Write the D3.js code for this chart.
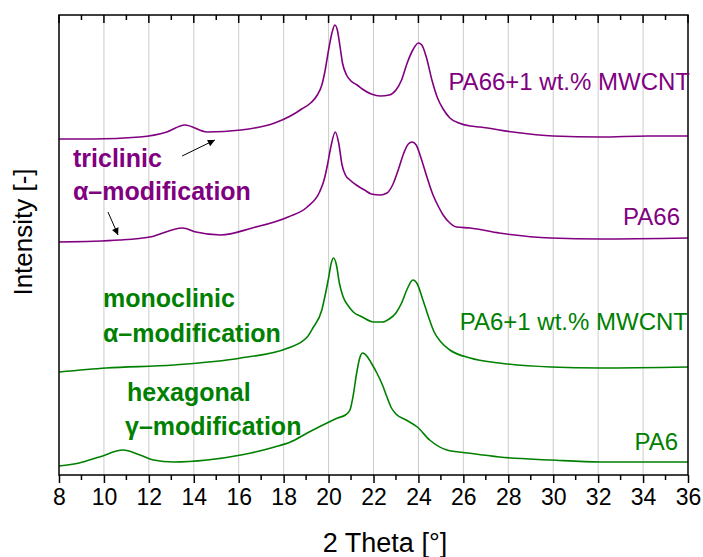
<!DOCTYPE html>
<html>
<head>
<meta charset="utf-8">
<script src="https://cdnjs.cloudflare.com/ajax/libs/d3/7.8.5/d3.min.js"></script>
<style>
  body { margin: 0; background: #fff; }
  text { font-family: "Liberation Sans", Arial, sans-serif; }
</style>
</head>
<body>
<div id="chart"></div>
<script>
// 2 Theta [deg] and intensity (arbitrary units, curves already offset)
const pa66cntTheta = [8.0, 9.5, 11.6, 12.8, 13.6, 14.6, 16.1, 17.6, 18.3, 18.8, 19.2, 19.5, 19.7, 19.85, 20.0, 20.15, 20.28, 20.4, 20.5, 20.62, 20.8, 21.0, 21.27, 21.5, 21.9, 22.3, 22.7, 23.0, 23.25, 23.5, 23.75, 24.0, 24.15, 24.35, 24.6, 24.85, 25.1, 25.4, 25.8, 26.3, 26.75, 28.2, 30.0, 32.1, 34.2, 36.0];
const pa66cntI = [336, 336, 338, 343, 350, 343, 345, 352, 359, 366, 372, 380, 390, 405, 425, 442, 450, 444, 430, 412, 400, 394, 390, 386, 381, 379, 380, 385, 395, 412, 425, 432, 430, 418, 395, 377, 366, 357, 352, 349, 348, 343, 339, 338, 339, 339];

const pa66Theta = [8.0, 10.7, 12.05, 13.5, 14.1, 15.2, 16.6, 18.2, 19.05, 19.6, 19.8, 19.95, 20.1, 20.3, 20.45, 20.6, 20.75, 20.95, 21.3, 21.6, 21.9, 22.3, 22.6, 22.85, 23.1, 23.35, 23.55, 23.72, 23.9, 24.1, 24.35, 24.65, 24.9, 25.1, 25.4, 25.7, 26.3, 27.6, 29.9, 32.1, 36.0];
const pa66I = [233, 235, 238, 247, 243, 240, 247, 258, 268, 283, 295, 310, 328, 343, 332, 310, 300, 295, 289, 285, 281, 280, 282, 290, 305, 322, 331, 333, 330, 318, 300, 280, 268, 260, 252, 248, 247, 242, 237, 236, 237];

const pa6cntTheta = [8.0, 10.1, 13.1, 16.1, 18.2, 19.05, 19.3, 19.7, 19.85, 20.0, 20.12, 20.22, 20.35, 20.48, 20.65, 20.85, 21.1, 21.5, 22.0, 22.4, 22.7, 23.0, 23.25, 23.5, 23.75, 23.95, 24.2, 24.45, 24.7, 25.0, 25.4, 26.3, 27.6, 29.9, 32.1, 36.0];
const pa6cntI = [103, 107, 110, 117, 127, 138, 147, 165, 180, 197, 212, 217, 210, 192, 178, 170, 163, 158, 153, 153, 156, 162, 172, 186, 195, 191, 175, 158, 143, 133, 125, 117, 112, 108, 107, 108];

const pa6Theta = [8.0, 8.9, 9.8, 10.85, 11.6, 12.2, 13.1, 14.6, 16.1, 17.6, 18.3, 19.05, 19.93, 20.4, 20.75, 20.95, 21.1, 21.25, 21.4, 21.52, 21.7, 21.9, 22.15, 22.4, 22.6, 22.8, 23.0, 23.45, 23.95, 24.5, 25.27, 26.2, 27.6, 29.9, 32.1, 36.0];
const pa6I = [9, 12, 18, 25, 20, 15, 13, 15, 20, 28, 33, 42, 52, 57, 60, 65, 80, 102, 118, 122, 119, 112, 102, 90, 78, 67, 61, 55, 48, 35, 25, 22, 18, 15, 13, 13];

const xTicks = [8, 10, 12, 14, 16, 18, 20, 22, 24, 26, 28, 30, 32, 34, 36];

const purple = "#800080";
const green = "#008000";

const series = [
  { name: "PA66+1 wt.% MWCNT", theta: pa66cntTheta, inten: pa66cntI, color: purple },
  { name: "PA66", theta: pa66Theta, inten: pa66I, color: purple },
  { name: "PA6+1 wt.% MWCNT", theta: pa6cntTheta, inten: pa6cntI, color: green },
  { name: "PA6", theta: pa6Theta, inten: pa6I, color: green }
];

const width = 703, height = 557;
const margin = { top: 15, right: 15, bottom: 82, left: 59 };
const innerW = width - margin.left - margin.right;
const innerH = height - margin.top - margin.bottom;

const svg = d3.select("#chart").append("svg")
  .attr("width", width)
  .attr("height", height);

const xScale = d3.scaleLinear().domain([8, 36]).range([margin.left, margin.left + innerW]);
const yScale = d3.scaleLinear().domain([0, 460]).range([margin.top + innerH, margin.top]);

// vertical grid lines
svg.append("g")
  .selectAll("line")
  .data(xTicks.slice(1, -1))
  .enter().append("line")
  .attr("x1", d => xScale(d)).attr("x2", d => xScale(d))
  .attr("y1", margin.top).attr("y2", margin.top + innerH)
  .attr("stroke", "#cccccc")
  .attr("stroke-width", 1);

// curves
const line = d3.line()
  .x(d => xScale(d[0]))
  .y(d => yScale(d[1]))
  .curve(d3.curveMonotoneX);

series.forEach(s => {
  svg.append("path")
    .datum(d3.zip(s.theta, s.inten))
    .attr("fill", "none")
    .attr("stroke", s.color)
    .attr("stroke-width", 1.6)
    .attr("d", line);
});

// frame
svg.append("rect")
  .attr("x", margin.left).attr("y", margin.top)
  .attr("width", innerW).attr("height", innerH)
  .attr("fill", "none").attr("stroke", "#000").attr("stroke-width", 1.5);

// bottom axis, major + minor ticks
const xAxis = d3.axisBottom(xScale).tickValues(xTicks).tickSize(8).tickSizeOuter(0).tickPadding(6);
const gx = svg.append("g")
  .attr("transform", `translate(0,${margin.top + innerH})`)
  .call(xAxis);
gx.select(".domain").remove();
gx.selectAll(".tick line").attr("stroke-width", 1.5);
gx.selectAll(".tick text").attr("font-size", 23).attr("fill", "#000");

const minorTicks = d3.range(9, 36, 2);
svg.append("g").selectAll("line")
  .data(minorTicks)
  .enter().append("line")
  .attr("x1", d => xScale(d)).attr("x2", d => xScale(d))
  .attr("y1", margin.top + innerH).attr("y2", margin.top + innerH + 5)
  .attr("stroke", "#000").attr("stroke-width", 1.5);

// top axis ticks point inward
svg.append("g").selectAll("line")
  .data(xTicks.map(d => [d, 8]).concat(minorTicks.map(d => [d, 5])))
  .enter().append("line")
  .attr("x1", d => xScale(d[0])).attr("x2", d => xScale(d[0]))
  .attr("y1", margin.top).attr("y2", d => margin.top + d[1])
  .attr("stroke", "#000").attr("stroke-width", 1.5);

// axis titles
svg.append("text")
  .attr("x", 385).attr("y", 552)
  .attr("text-anchor", "middle")
  .attr("font-size", 27)
  .text("2 Theta [°]");

svg.append("text")
  .attr("transform", "translate(32,232) rotate(-90)")
  .attr("text-anchor", "middle")
  .attr("font-size", 26)
  .text("Intensity [-]");

// series labels
const labels = [
  { text: "PA66+1 wt.% MWCNT", x: 690, y: 90, color: purple },
  { text: "PA66", x: 680, y: 225, color: purple },
  { text: "PA6+1 wt.% MWCNT", x: 688, y: 330, color: green },
  { text: "PA6", x: 678, y: 450, color: green }
];
labels.forEach(l => {
  svg.append("text")
    .attr("x", l.x).attr("y", l.y)
    .attr("text-anchor", "end")
    .attr("font-size", 24)
    .attr("fill", l.color)
    .text(l.text);
});

// crystal modification notes
const notes = [
  { text: "triclinic", x: 73, y: 167, color: purple },
  { text: "α–modification", x: 73, y: 200, color: purple },
  { text: "monoclinic", x: 103, y: 307, color: green },
  { text: "α–modification", x: 103, y: 342, color: green },
  { text: "hexagonal", x: 127, y: 401, color: green },
  { text: "γ–modification", x: 125, y: 435, color: green }
];
notes.forEach(n => {
  svg.append("text")
    .attr("x", n.x).attr("y", n.y)
    .attr("font-size", 25)
    .attr("font-weight", "bold")
    .attr("fill", n.color)
    .text(n.text);
});

// arrows pointing at the small alpha reflection
svg.append("defs").append("marker")
  .attr("id", "arrow")
  .attr("viewBox", "0 0 10 10")
  .attr("refX", 10).attr("refY", 5)
  .attr("markerWidth", 9).attr("markerHeight", 7)
  .attr("markerUnits", "userSpaceOnUse")
  .attr("orient", "auto")
  .append("path")
  .attr("d", "M0,0L10,5L0,10Z")
  .attr("fill", "#000");

const arrows = [
  [[13.48, 319], [14.94, 335]],
  [[10.18, 263], [10.63, 240]]
];
arrows.forEach(a => {
  svg.append("line")
    .attr("x1", xScale(a[0][0])).attr("y1", yScale(a[0][1]))
    .attr("x2", xScale(a[1][0])).attr("y2", yScale(a[1][1]))
    .attr("stroke", "#000").attr("stroke-width", 1)
    .attr("marker-end", "url(#arrow)");
});
</script>
</body>
</html>
